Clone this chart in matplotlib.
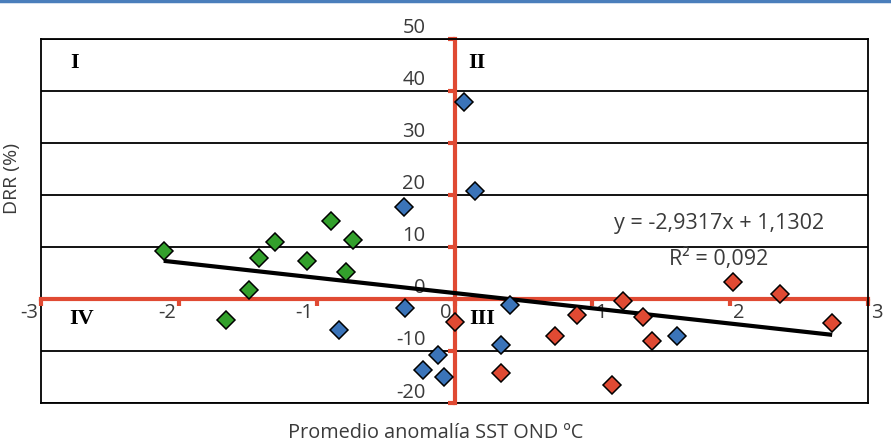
import matplotlib
matplotlib.use("Agg")
import matplotlib.pyplot as plt
import matplotlib.transforms as mtransforms
from matplotlib.lines import Line2D
import numpy as np

plt.rcParams['font.family'] = ['Open Sans', 'DejaVu Sans']

# Data
green_x = [-2.11, -1.30, -1.42, -1.49, -1.66, -1.07, -0.895, -0.736, -0.785]
green_y = [9.3, 11.0, 7.8, 1.7, -4.1, 7.3, 15.0, 11.4, 5.1]
blue_x = [0.07, 0.147, -0.37, -0.36, 0.40, 0.34, -0.118, -0.23, -0.074, -0.835, 1.615]
blue_y = [37.9, 20.7, 17.6, -1.8, -1.1, -8.8, -10.8, -13.6, -15.1, -5.9, -7.1]
red_x = [0.002, 0.34, 0.73, 0.89, 1.22, 1.37, 1.43, 1.14, 2.02, 2.36, 2.74]
red_y = [-4.5, -14.3, -7.2, -3.1, -0.4, -3.4, -8.1, -16.6, 3.3, 1.0, -4.7]

slope = -2.9317
intercept = 1.1302
r2_text = "0,092"

x_ticks = [-3, -2, -1, 0, 1, 2, 3]
y_ticks = [-20, -10, 0, 10, 20, 30, 40, 50]
quadrants = ["I", "II", "III", "IV"]

RED = "#E04A33"
BLUE = "#3B74B9"
GREEN = "#33A02C"
TXT = "#3A3A3A"
FS = 14.5

fig = plt.figure(figsize=(8.91, 4.44), dpi=100)
ax = fig.add_axes([41/891, 1-403/444, (868-41)/891, (403-38.7)/444])
ax.set_xlim(-3, 3)
ax.set_ylim(-20, 50)

# horizontal gridlines
for yv in y_ticks:
    ax.axhline(yv, color="black", lw=1.3, zorder=1)

# frame
for s in ["top", "right"]:
    ax.spines[s].set_visible(True)
    ax.spines[s].set_color("black")
    ax.spines[s].set_linewidth(1.3)
# red axes through zero
ax.spines["left"].set_position(("data", 0))
ax.spines["bottom"].set_position(("data", 0))
for s in ["left", "bottom"]:
    ax.spines[s].set_color(RED)
    ax.spines[s].set_linewidth(3)
    ax.spines[s].set_zorder(2)
# left/bottom frame edges
ax.plot([0, 0], [0, 1], transform=ax.transAxes, color="black", lw=1.3, zorder=1, clip_on=False)
ax.plot([0, 1], [0, 0], transform=ax.transAxes, color="black", lw=1.3, zorder=1, clip_on=False)

ax.set_xticks(x_ticks)
ax.set_yticks(y_ticks)
ax.set_xticklabels([str(t) for t in x_ticks])
ax.set_yticklabels([str(t) for t in y_ticks])
ax.tick_params(axis="x", direction="out", length=5, width=3, color=RED, pad=-2,
               labelsize=FS, labelcolor=TXT)
ax.tick_params(axis="y", direction="out", length=5, width=3, color=RED, pad=16,
               labelsize=FS, labelcolor=TXT)
for lbl, t in zip(ax.get_xticklabels(), x_ticks):
    if t <= 0:
        lbl.set_ha("right")
        lbl.set_transform(lbl.get_transform() + mtransforms.ScaledTranslation(-3/100, 0, fig.dpi_scale_trans))
    else:
        lbl.set_ha("left")
        lbl.set_transform(lbl.get_transform() + mtransforms.ScaledTranslation(3/100, 0, fig.dpi_scale_trans))
for lbl in ax.get_yticklabels():
    lbl.set_transform(lbl.get_transform() + mtransforms.ScaledTranslation(0, 13/100, fig.dpi_scale_trans))

# trendline
xmin = min(green_x + blue_x + red_x)
xmax = max(green_x + blue_x + red_x)
tx = np.array([xmin, xmax])
ax.plot(tx, slope*tx + intercept, color="black", lw=3, zorder=3, solid_capstyle="butt")

mk = dict(marker="D", ms=9.5, mec="black", mew=1.1, ls="none", zorder=4, clip_on=False)
ax.plot(green_x, green_y, mfc=GREEN, **mk)
ax.plot(blue_x, blue_y, mfc=BLUE, **mk)
ax.plot(red_x, red_y, mfc=RED, **mk)

# quadrant labels (figure pixel positions)
qpos = {"I": (75, 63), "II": (477, 63), "III": (482, 319), "IV": (82, 319)}
for q in quadrants:
    px, py = qpos[q]
    fig.text(px/891, 1-py/444, q, ha="center", va="center", fontsize=16,
             fontweight="bold", family="Liberation Serif", color="black")

# equation texts
fig.text(719/891, 1-224/444, "y = -2,9317x + 1,1302", ha="center", va="center",
         fontsize=15.5, color=TXT)
fig.text(719/891, 1-259/444, "R² = " + r2_text, ha="center", va="center",
         fontsize=15.5, color=TXT)

# axis titles
fig.text(12/891, 1-178/444, "DRR (%)", rotation=90, ha="center", va="center",
         fontsize=14, color=TXT)
fig.text(436/891, 1-433/444, "Promedio anomalía SST OND ºC", ha="center", va="center",
         fontsize=14.3, color=TXT)

# blue top line
fig.add_artist(Line2D([0, 1], [1-1.5/444, 1-1.5/444], transform=fig.transFigure,
                      color="#4A7EBB", lw=2.5))

fig.savefig("out.png", dpi=100)
